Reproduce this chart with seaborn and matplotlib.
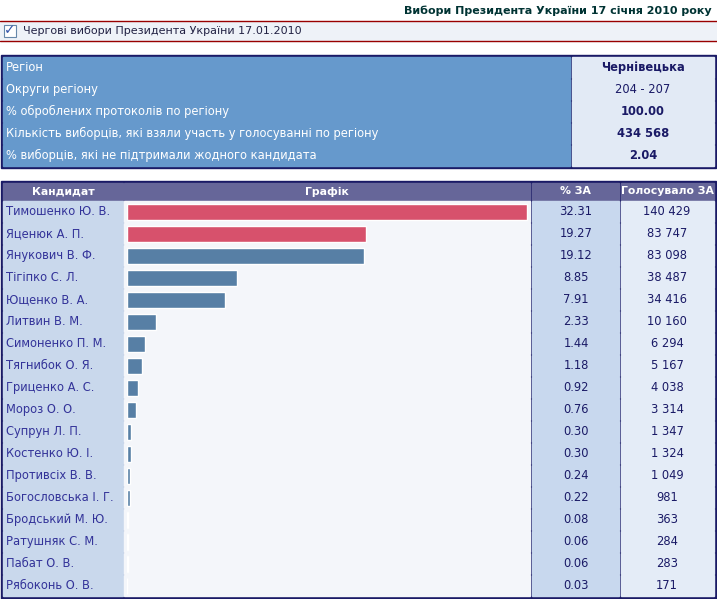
import matplotlib
matplotlib.use("Agg")
import matplotlib.pyplot as plt
import seaborn as sns
import pandas as pd
from matplotlib.patches import Rectangle

candidates = ["Тимошенко Ю. В.", "Яценюк А. П.", "Янукович В. Ф.", "Тігіпко С. Л.",
              "Ющенко В. А.", "Литвин В. М.", "Симоненко П. М.", "Тягнибок О. Я.",
              "Гриценко А. С.", "Мороз О. О.", "Супрун Л. П.", "Костенко Ю. І.",
              "Противсіх В. В.", "Богословська І. Г.", "Бродський М. Ю.",
              "Ратушняк С. М.", "Пабат О. В.", "Рябоконь О. В."]
pct = [32.31, 19.27, 19.12, 8.85, 7.91, 2.33, 1.44, 1.18, 0.92, 0.76,
       0.30, 0.30, 0.24, 0.22, 0.08, 0.06, 0.06, 0.03]
votes = ["140 429", "83 747", "83 098", "38 487", "34 416", "10 160", "6 294",
         "5 167", "4 038", "3 314", "1 347", "1 324", "1 049", "981", "363",
         "284", "283", "171"]
info_labels = ["Регіон", "Округи регіону", "% оброблених протоколів по регіону",
               "Кількість виборців, які взяли участь у голосуванні по регіону",
               "% виборців, які не підтримали жодного кандидата"]
info_values = ["Чернівецька", "204 - 207", "100.00", "434 568", "2.04"]

sns.set_theme(style="white")
plt.rcParams['font.family'] = ['DejaVu Sans']

fig = plt.figure(figsize=(7.17, 5.99), dpi=100)
fig.patch.set_facecolor("#ffffff")
ax = fig.add_axes([0, 0, 1, 1])
ax.set_xlim(0, 717)
ax.set_ylim(599, 0)
ax.axis("off")

navy = "#1a1a66"
# title strip
ax.text(712, 11, "Вибори Президента України 17 січня 2010 року", ha="right", va="center",
        fontsize=8, color="#003333", fontweight="bold")
ax.plot([0, 717], [21, 21], color="#990000", lw=1)
ax.add_patch(Rectangle((0, 22), 717, 19, color="#eef2f8"))
ax.plot([0, 717], [41, 41], color="#990000", lw=1)
ax.add_patch(Rectangle((4, 25), 12, 12, fc="white", ec="#6688aa", lw=0.8))
ax.text(10, 30, "✓", ha="center", va="center", fontsize=10, color="#3355aa", fontweight="bold")
ax.text(23, 31, "Чергові вибори Президента України 17.01.2010", ha="left", va="center",
        fontsize=8, color="#222244")

# info table
ax.add_patch(Rectangle((1, 55), 715, 113, fc=navy, ec=navy))
for i, (lab, val) in enumerate(zip(info_labels, info_values)):
    y = 57 + i * 22
    ax.add_patch(Rectangle((3, y), 567, 20.5, color="#6699cc"))
    ax.add_patch(Rectangle((572, y), 142, 20.5, color="#e2eaf5"))
    ax.text(6, y + 10.5, lab, ha="left", va="center", fontsize=8.3, color="white")
    ax.text(643, y + 10.5, val, ha="center", va="center", fontsize=8.3, color=navy,
            fontweight="bold" if i != 1 else "normal")

# candidate table
ax.add_patch(Rectangle((1, 181), 715, 418, fc=navy, ec=navy))
cols = [(3, 120), (124, 406), (532, 87), (621, 93)]
heads = ["Кандидат", "Графік", "% ЗА", "Голосувало ЗА"]
for (x, w), h in zip(cols, heads):
    ax.add_patch(Rectangle((x, 183), w, 16.5, color="#666699"))
    ax.text(x + w / 2, 191.5, h, ha="center", va="center", fontsize=7.8,
            color="white", fontweight="bold")
for i, (name, p, v) in enumerate(zip(candidates, pct, votes)):
    y = 201 + i * 22
    ax.add_patch(Rectangle((3, y), 120, 20.5, color="#c9d8ec"))
    ax.add_patch(Rectangle((124, y), 406, 20.5, color="#f4f6fa"))
    ax.add_patch(Rectangle((532, y), 87, 20.5, color="#c8d8ee"))
    ax.add_patch(Rectangle((621, y), 93, 20.5, color="#e4ecf7"))
    ax.text(6, y + 10.5, name, ha="left", va="center", fontsize=8.3, color="#333399")
    ax.text(576, y + 10.5, f"{p:.2f}", ha="center", va="center", fontsize=8.3, color=navy)
    ax.text(667, y + 10.5, v, ha="center", va="center", fontsize=8.3, color=navy)

# bars
bx = fig.add_axes([127 / 717, 1 - 597 / 599, 402 / 717, 396 / 599])
df = pd.DataFrame({"cand": candidates, "pct": pct})
colors = ["#ee3a5e" if i < 2 else "#4a7fb2" for i in range(len(candidates))]
sns.barplot(data=df, x="pct", y="cand", hue="cand", palette=colors, legend=False,
            width=0.75, ax=bx, order=candidates)
bx.set_xlim(0, 32.31 * 402 / 400)
bx.set_facecolor("none")
bx.axis("off")

fig.savefig("out.png", dpi=100)
